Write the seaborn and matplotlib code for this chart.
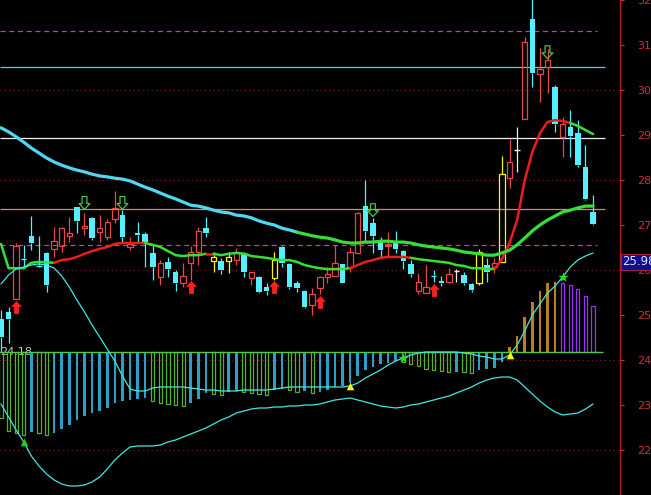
import numpy as np
import matplotlib
matplotlib.use("Agg")
import matplotlib.pyplot as plt
from matplotlib.transforms import blended_transform_factory
import seaborn as sns

sns.set_style("white")
plt.rcParams['font.family'] = ['DejaVu Sans']

# daily candles (price)
opens = [24.91, 25.07, 25.36, 26.26, 26.76, 26.11, 26.38, 26.47, 26.53, 26.76,
         27.40, 26.93, 27.16, 26.84, 26.73, 27.13, 27.22, 26.51, 26.82, 26.80,
         26.38, 25.84, 26.18, 25.96, 25.71, 26.16, 26.40, 26.93, 26.20, 26.20,
         26.20, 26.22, 26.38, 25.82, 25.84, 25.62, 25.82, 26.51, 26.13, 25.71,
         25.53, 25.22, 25.60, 25.84, 25.87, 26.13, 26.07, 26.38, 27.42, 27.04,
         26.62, 26.53, 26.62, 26.42, 26.13, 25.53, 25.49, 25.88, 25.76, 25.73,
         25.98, 25.89, 25.69, 25.71, 26.11, 26.07, 26.18, 28.04, 28.67, 29.36,
         31.58, 30.36, 30.51, 30.07, 28.96, 29.18, 29.04, 28.29, 27.29]
highs = [25.11, 25.18, 26.60, 26.56, 27.20, 26.76, 26.40, 26.96, 26.96, 27.18,
         27.40, 27.27, 27.18, 27.22, 27.13, 27.76, 27.33, 26.73, 27.07, 26.84,
         26.56, 26.22, 26.29, 26.00, 26.16, 26.53, 26.96, 27.18, 26.40, 26.27,
         26.40, 26.49, 26.40, 25.96, 25.87, 25.71, 26.40, 26.53, 26.16, 25.76,
         25.56, 25.60, 25.87, 26.07, 26.56, 26.13, 26.51, 27.29, 28.00, 27.16,
         26.73, 26.84, 26.87, 26.44, 26.22, 25.93, 26.11, 26.00, 25.87, 26.04,
         26.02, 25.96, 25.71, 26.47, 26.27, 26.27, 28.53, 28.91, 29.18, 31.18,
         32.20, 30.93, 30.91, 30.11, 29.40, 29.56, 29.33, 28.78, 27.67]
lows = [24.18, 24.38, 25.36, 26.04, 26.44, 26.07, 25.51, 26.29, 26.40, 26.62,
        26.82, 26.78, 26.67, 26.62, 26.67, 27.04, 26.60, 26.44, 26.60, 26.07,
        25.78, 25.67, 25.84, 25.53, 25.62, 25.78, 26.11, 26.73, 25.96, 25.91,
        25.93, 26.11, 25.84, 25.67, 25.49, 25.44, 25.78, 26.07, 25.58, 25.51,
        25.16, 25.00, 25.47, 25.71, 25.87, 25.71, 25.96, 26.38, 26.62, 26.38,
        26.27, 26.29, 26.38, 26.02, 25.84, 25.47, 25.49, 25.73, 25.64, 25.71,
        25.73, 25.67, 25.51, 25.67, 25.73, 25.93, 26.18, 27.82, 28.18, 29.36,
        30.07, 29.73, 29.93, 29.07, 28.51, 28.51, 28.29, 27.56, 27.00]
closes = [24.51, 24.91, 26.53, 26.24, 26.60, 26.09, 25.67, 26.64, 26.93, 26.82,
          27.09, 26.98, 26.71, 26.93, 27.07, 27.38, 26.73, 26.58, 26.78, 26.62,
          26.07, 26.16, 26.02, 25.71, 25.87, 26.40, 26.87, 26.82, 26.29, 26.00,
          26.29, 26.40, 25.96, 25.96, 25.51, 25.53, 26.22, 26.16, 25.62, 25.60,
          25.18, 25.47, 25.84, 25.91, 26.16, 25.71, 26.40, 27.27, 26.87, 26.76,
          26.44, 26.58, 26.47, 26.20, 25.91, 25.73, 25.62, 25.86, 25.71, 25.91,
          25.98, 25.71, 25.56, 26.40, 25.96, 26.16, 28.13, 28.40, 28.67, 31.07,
          30.38, 30.47, 30.67, 29.24, 29.24, 28.98, 28.33, 27.58, 27.02]
yellow_days = [28, 30, 36, 63, 66]

# moving averages
ma_short = [26.58, 26.04, 26.04, 26.04, 26.16, 26.18, 26.17, 26.16, 26.22, 26.24,
            26.29, 26.36, 26.42, 26.47, 26.51, 26.58, 26.60, 26.60, 26.60, 26.60,
            26.56, 26.51, 26.42, 26.33, 26.31, 26.33, 26.33, 26.36, 26.36, 26.33,
            26.36, 26.38, 26.36, 26.31, 26.29, 26.27, 26.24, 26.22, 26.22, 26.18,
            26.11, 26.07, 26.04, 26.02, 26.02, 26.02, 26.04, 26.11, 26.18, 26.22,
            26.27, 26.29, 26.29, 26.29, 26.27, 26.24, 26.22, 26.20, 26.18, 26.16,
            26.11, 26.09, 26.04, 26.04, 26.02, 26.02, 26.24, 26.60, 27.11, 28.00,
            28.62, 29.04, 29.29, 29.33, 29.31, 29.27, 29.20, 29.11, 29.02]
ma_long = [29.16, 29.07, 28.96, 28.84, 28.71, 28.60, 28.49, 28.40, 28.33, 28.27,
           28.22, 28.18, 28.13, 28.09, 28.07, 28.04, 28.02, 27.98, 27.91, 27.84,
           27.78, 27.71, 27.64, 27.58, 27.51, 27.44, 27.42, 27.38, 27.33, 27.29,
           27.27, 27.22, 27.20, 27.16, 27.09, 27.04, 27.00, 26.93, 26.89, 26.84,
           26.80, 26.76, 26.73, 26.71, 26.67, 26.62, 26.60, 26.60, 26.62, 26.62,
           26.64, 26.64, 26.62, 26.62, 26.60, 26.56, 26.53, 26.51, 26.49, 26.47,
           26.44, 26.40, 26.38, 26.36, 26.33, 26.33, 26.38, 26.44, 26.56, 26.71,
           26.87, 27.00, 27.11, 27.20, 27.29, 27.33, 27.38, 27.42, 27.42]

# indicator (macd style)
macd_bar = [-0.33, -0.395, -0.405, -0.415, -0.40, -0.405, -0.415, -0.405, -0.385, -0.365,
            -0.34, -0.32, -0.305, -0.295, -0.28, -0.255, -0.245, -0.24, -0.235, -0.23,
            -0.245, -0.255, -0.26, -0.265, -0.27, -0.255, -0.235, -0.205, -0.21, -0.215,
            -0.20, -0.195, -0.20, -0.205, -0.21, -0.215, -0.19, -0.185, -0.19, -0.20,
            -0.195, -0.205, -0.20, -0.19, -0.175, -0.17, -0.155, -0.12, -0.09, -0.075,
            -0.06, -0.055, -0.045, -0.05, -0.06, -0.07, -0.085, -0.09, -0.095, -0.10,
            -0.098, -0.10, -0.105, -0.09, -0.085, -0.08, -0.05, 0.025, 0.08, 0.175,
            0.25, 0.305, 0.345, 0.35, 0.345, 0.335, 0.315, 0.28, 0.23]
dif = [0.34, 0.385, 0.415, 0.425, 0.435, 0.44, 0.435, 0.42, 0.38, 0.325,
       0.26, 0.20, 0.135, 0.075, 0.015, -0.045, -0.12, -0.185, -0.195, -0.195,
       -0.18, -0.175, -0.175, -0.175, -0.175, -0.18, -0.185, -0.19, -0.19, -0.195,
       -0.195, -0.195, -0.19, -0.19, -0.19, -0.19, -0.185, -0.18, -0.175, -0.175,
       -0.175, -0.175, -0.175, -0.175, -0.175, -0.175, -0.17, -0.155, -0.13, -0.11,
       -0.09, -0.065, -0.045, -0.03, -0.015, -0.005, 0.0, 0.0, 0.0, 0.0,
       0.0, -0.005, -0.01, -0.02, -0.025, -0.035, -0.035, -0.015, 0.035, 0.105,
       0.185, 0.24, 0.295, 0.33, 0.375, 0.425, 0.46, 0.48, 0.495]
dea = [-0.26, -0.325, -0.39, -0.45, -0.52, -0.57, -0.61, -0.64, -0.66, -0.67,
       -0.67, -0.665, -0.65, -0.625, -0.585, -0.54, -0.505, -0.475, -0.47, -0.47,
       -0.47, -0.465, -0.45, -0.44, -0.425, -0.41, -0.395, -0.38, -0.36, -0.34,
       -0.325, -0.305, -0.295, -0.285, -0.28, -0.28, -0.275, -0.275, -0.27, -0.27,
       -0.265, -0.265, -0.26, -0.25, -0.24, -0.235, -0.23, -0.24, -0.25, -0.26,
       -0.27, -0.275, -0.28, -0.275, -0.265, -0.26, -0.25, -0.24, -0.23, -0.22,
       -0.205, -0.19, -0.175, -0.155, -0.14, -0.13, -0.125, -0.125, -0.14, -0.175,
       -0.21, -0.245, -0.275, -0.30, -0.315, -0.31, -0.305, -0.285, -0.26]

# signals
buy_days = [2, 25, 36, 42, 57]
buy_marks = [25.18, 25.62, 25.62, 25.29, 25.56]
sell_days = [11, 16, 49, 72]
sell_marks = [27.49, 27.49, 27.33, 30.84]
dea_tri_days = [3]
dif_tri_days = [46, 67]
dif_star_days = [53, 74]

# reference levels
dash_levels = [31.31, 26.56]
cyan_level = 30.51
white_level = 28.93
orange_level = 27.36
grid_levels = [22, 24, 26, 28, 30]
low_label = 24.18
cursor_label = 25.98

n = len(closes)
x = np.arange(n)
XL = (-0.13, 81.55)

fig = plt.figure(figsize=(6.51, 4.95), dpi=100, facecolor='black')
ax = fig.add_axes([0, 0, 620 / 651, 1])
ax.set_facecolor('black')
ax.set_xlim(*XL)
ax.set_ylim(21, 32)

# background lines
for lv in grid_levels:
    ax.axhline(lv, color='#8c1c1c', lw=0.8, ls=(0, (1, 3)), zorder=0)
for lv in dash_levels:
    ax.hlines(lv, XL[0], 78.5, colors='#c838c8', lw=0.9, linestyles=(0, (4, 3)), zorder=1)
ax.hlines(cyan_level, XL[0], 79.6, colors='#40d8e8', lw=0.9, zorder=1)
ax.hlines(white_level, XL[0], 79.6, colors='#f0f0f0', lw=0.9, zorder=1)
ax.hlines(orange_level, XL[0], 79.6, colors='#f08060', lw=0.9, zorder=1)

# candles
for i in range(n):
    o, h, l, c = opens[i], highs[i], lows[i], closes[i]
    top, bot = max(o, c), min(o, c)
    if i in yellow_days:
        col, hollow = '#ffff00', True
    elif c == o:
        col, hollow = '#eeeeee', True
    elif c > o:
        col, hollow = '#e84848', True
    else:
        col, hollow = '#54f0ff', False
    ax.vlines(i, top, h, color=col, lw=0.9, zorder=2)
    ax.vlines(i, l, bot, color=col, lw=0.9, zorder=2)
    if top - bot < 0.03:
        ax.hlines((top + bot) / 2, i - 0.36, i + 0.36, color=col, lw=1.0, zorder=2)
    elif hollow:
        ax.bar(i, top - bot, bottom=bot, width=0.72, fill=False, edgecolor=col, lw=0.9, zorder=2)
    else:
        ax.bar(i, top - bot, bottom=bot, width=0.72, color=col, lw=0, zorder=2)

# moving averages, coloured by segment
green, red, cyan = '#33e033', '#ee1c1c', '#4fd8ef'
short_segments = [(0, 7, green), (7, 19, red), (19, 27, green), (27, 28, red),
                  (28, 46, green), (46, 54, red), (54, 65, green), (65, 75, red),
                  (75, 78, green)]
for a, b, col in short_segments:
    sns.lineplot(x=x[a:b + 1], y=ma_short[a:b + 1], ax=ax, color=col, lw=1.8,
                 sort=False, zorder=3)
for a, b, col in [(0, 39, cyan), (39, 78, green)]:
    sns.lineplot(x=x[a:b + 1], y=ma_long[a:b + 1], ax=ax, color=col, lw=2.3,
                 sort=False, zorder=3)

# arrows
up_arrow = [(0, 1), (0.85, 0.1), (0.38, 0.1), (0.38, -1), (-0.38, -1), (-0.38, 0.1),
            (-0.85, 0.1), (0, 1)]
down_arrow = [(px, -py) for px, py in up_arrow]
ax.scatter(buy_days, buy_marks, marker=up_arrow, s=85, color='#ff2020', lw=0, zorder=4)
ax.scatter(sell_days, sell_marks, marker=down_arrow, s=85, facecolors='none',
           edgecolors='#40c840', lw=0.9, zorder=4)

# axis on the right
ax.yaxis.tick_right()
ticks = np.arange(22, 33)
ax.set_yticks(ticks)
ax.set_yticklabels([f"{t:.2f}" for t in ticks])
ax.tick_params(axis='y', colors='#d03030', labelsize=8, length=3, pad=9.5, width=0.8)
ax.set_xticks([])
for s in ['left', 'top', 'bottom']:
    ax.spines[s].set_visible(False)
ax.spines['right'].set_color('#b02020')
ax.spines['right'].set_linewidth(1.0)
ax.set_xlabel('')
ax.set_ylabel('')

ax.text(XL[0] + 0.05, low_label, f"{low_label:.2f}", color='#c8c8c8', fontsize=8,
        va='center', ha='left', zorder=5)
trans = blended_transform_factory(ax.transAxes, ax.transData)
ax.text(1.004, cursor_label + 0.2, f"{cursor_label:.2f}", transform=trans, color='#e0e0ff',
        fontsize=8.5, va='center', ha='left', zorder=6,
        bbox=dict(boxstyle='square,pad=0.12', fc='#10108c', ec='#a02040', lw=0.8))

# indicator panel overlaid on the same area
ax2 = fig.add_axes([0, 0, 620 / 651, 1], sharex=ax)
ax2.patch.set_alpha(0)
ax2.set_ylim(-0.715, 1.76)
for i, v in enumerate(macd_bar):
    rising = i > 0 and v >= macd_bar[i - 1]
    if v < 0:
        col = '#28a0c8' if rising else '#58b030'
    else:
        col = '#b8801e' if rising else '#9b30ff'
    if rising:
        ax2.bar(i, v, width=0.34, color=col, lw=0, zorder=1)
    else:
        ax2.bar(i, v, width=0.42, fill=False, edgecolor=col, lw=0.9, zorder=1)
ax2.hlines(0, XL[0], 79.3, colors='#50c840', lw=1.0, zorder=2)
sns.lineplot(x=x, y=dif, ax=ax2, color='#40e8e0', lw=0.9, sort=False, zorder=3)
sns.lineplot(x=x, y=dea, ax=ax2, color='#40e8e0', lw=0.9, sort=False, zorder=3)
ax2.scatter(dea_tri_days, [dea[i] for i in dea_tri_days], marker='^', s=30,
            color='#20d020', lw=0, zorder=4)
ax2.scatter(dif_tri_days, [dif[i] for i in dif_tri_days], marker='^', s=30,
            color='#ffff00', lw=0, zorder=4)
ax2.scatter(dif_star_days, [dif[i] for i in dif_star_days], marker='*', s=60,
            color='#20e020', lw=0, zorder=4)
ax2.axis('off')
ax2.set_xlim(*XL)

fig.savefig('out.png', dpi=100, facecolor='black')
